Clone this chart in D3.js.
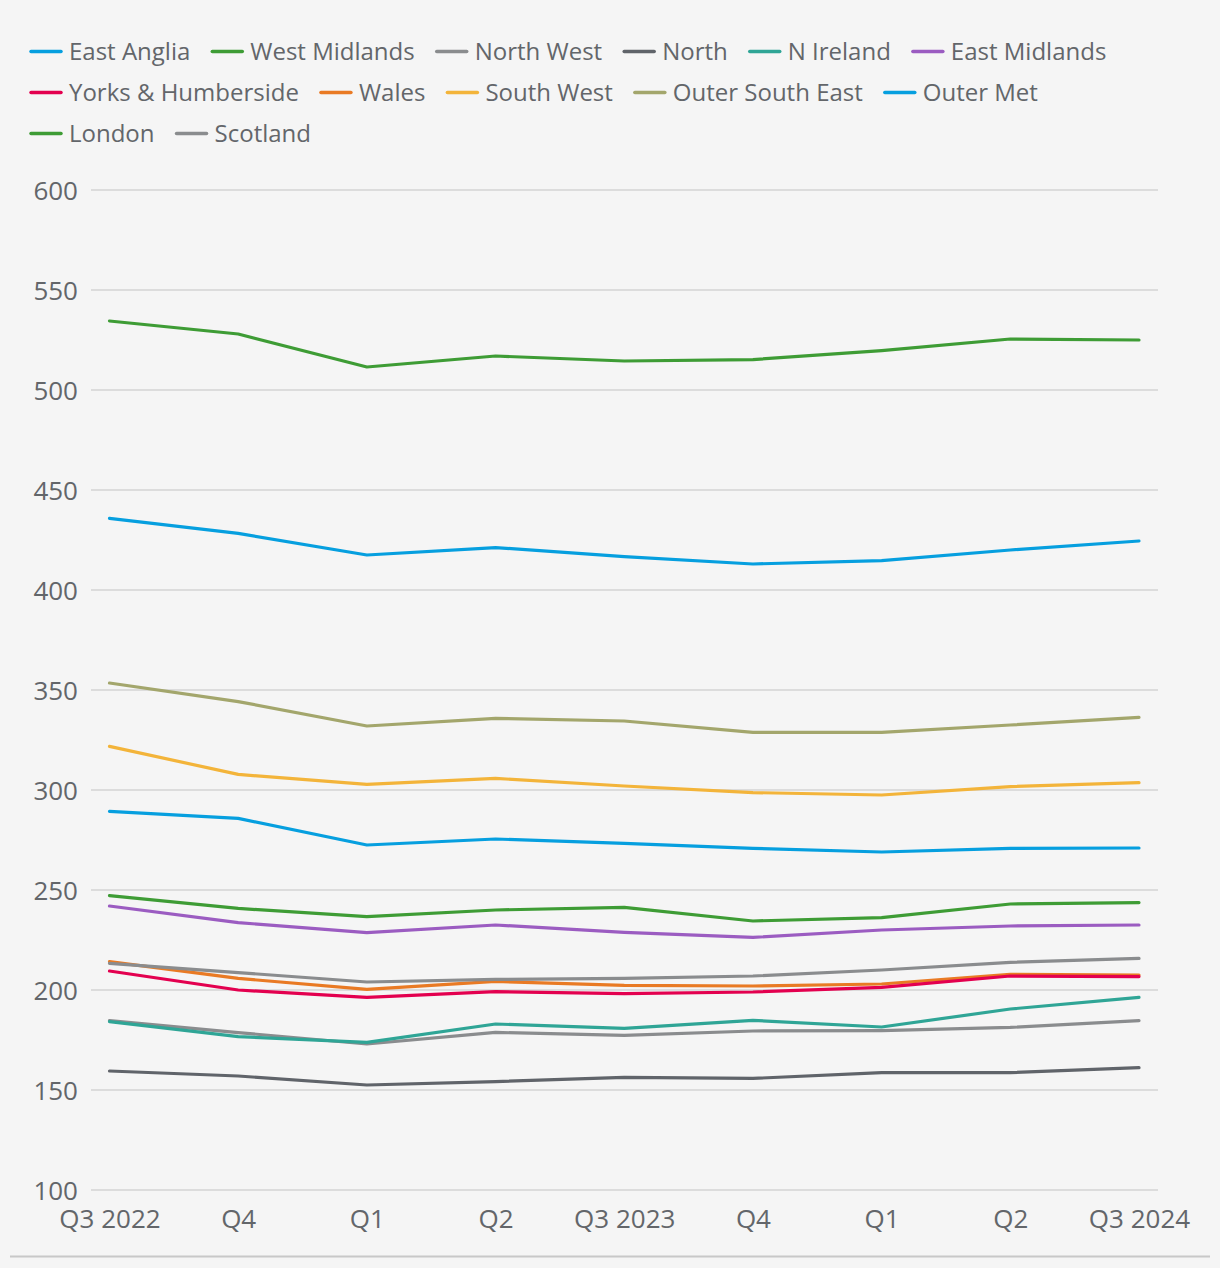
<!DOCTYPE html>
<html>
<head>
<meta charset="utf-8">
<script src="https://cdn.jsdelivr.net/npm/d3@7"></script>
<style>
  html, body { margin: 0; padding: 0; background: #f5f5f5; }
  svg { display: block; }
  text { font-family: "Open Sans", "Noto Sans", sans-serif; fill: #63666a; }
</style>
</head>
<body>
<svg id="chart" width="1220" height="1268"></svg>
<script>
// ---- Data ----
const quarters = ["Q3 2022", "Q4", "Q1", "Q2", "Q3 2023", "Q4", "Q1", "Q2", "Q3 2024"];
const yTicks = [100, 150, 200, 250, 300, 350, 400, 450, 500, 550, 600];

const seriesNames = ["East Anglia", "West Midlands", "North West", "North", "N Ireland", "East Midlands",
  "Yorks & Humberside", "Wales", "South West", "Outer South East", "Outer Met", "London", "Scotland"];
const seriesColors = ["#069fdf", "#3e9c35", "#8a8c8e", "#60646a", "#2fa596", "#9b5cc1",
  "#e3004f", "#e97a24", "#f3b43a", "#a3a66c", "#069fdf", "#3e9c35", "#8a8c8e"];

const eastAnglia     = [289.3, 285.8, 272.5, 275.5, 273.3, 270.8, 269.0, 270.8, 271.0];
const westMidlands   = [247.2, 240.8, 236.7, 240.0, 241.3, 234.5, 236.2, 243.0, 243.7];
const northWest      = [213.3, 208.7, 204.0, 205.3, 205.8, 207.0, 210.0, 213.8, 215.8];
const north          = [159.5, 157.0, 152.5, 154.2, 156.3, 155.8, 158.7, 158.7, 161.2];
const nIreland       = [184.2, 176.7, 173.8, 183.0, 180.8, 184.8, 181.5, 190.5, 196.3];
const eastMidlands   = [242.0, 233.7, 228.7, 232.5, 228.8, 226.3, 230.0, 232.0, 232.5];
const yorksHumber    = [209.5, 200.0, 196.3, 199.2, 198.2, 199.0, 201.3, 207.0, 206.7];
const wales          = [214.2, 205.8, 200.3, 204.3, 202.3, 202.0, 203.0, 207.8, 207.5];
const southWest      = [321.8, 307.8, 302.8, 305.8, 302.0, 298.7, 297.5, 301.7, 303.7];
const outerSouthEast = [353.5, 344.2, 332.0, 335.8, 334.5, 328.8, 328.8, 332.5, 336.3];
const outerMet       = [435.8, 428.3, 417.5, 421.2, 416.7, 413.0, 414.7, 420.0, 424.5];
const london         = [534.5, 528.0, 511.5, 517.0, 514.5, 515.2, 519.7, 525.5, 525.0];
const scotland       = [184.7, 178.7, 173.0, 178.8, 177.3, 179.5, 179.7, 181.3, 184.7];

const seriesValues = [eastAnglia, westMidlands, northWest, north, nIreland, eastMidlands,
  yorksHumber, wales, southWest, outerSouthEast, outerMet, london, scotland];

// ---- Chart ----
const svg = d3.select("#chart");
svg.append("rect").attr("width", 1220).attr("height", 1268).attr("fill", "#f5f5f5");

const x = d3.scalePoint().domain(d3.range(quarters.length)).range([109.5, 1139]);
const y = d3.scaleLinear().domain([100, 600]).range([1190, 190]);
const gridX0 = 91, gridX1 = 1158;

// Gridlines
svg.append("g").selectAll("line").data(yTicks).join("line")
  .attr("x1", gridX0).attr("x2", gridX1)
  .attr("y1", d => y(d)).attr("y2", d => y(d))
  .attr("stroke", "#dcdcdc").attr("stroke-width", 2);

// Y axis labels
const yAxis = d3.axisLeft(y).tickValues(yTicks).tickSize(0).tickPadding(0);
const gy = svg.append("g").attr("transform", "translate(78,0)").call(yAxis);
gy.select(".domain").remove();
gy.selectAll("text").attr("font-size", 26).attr("dy", "0.36em")
  .style("font-family", "'Open Sans', sans-serif").attr("fill", "#63666a");

// X axis labels
const xAxis = d3.axisBottom(x).tickFormat(i => quarters[i]).tickSize(0).tickPadding(0);
const gx = svg.append("g").attr("transform", "translate(0,1209.5)").call(xAxis);
gx.select(".domain").remove();
gx.selectAll("text").attr("font-size", 26).attr("dy", "0.71em")
  .style("font-family", "'Open Sans', sans-serif").attr("fill", "#63666a");

// Lines (later legend entries underneath)
const line = d3.line().x((d, i) => x(i)).y(d => y(d));
const order = d3.range(seriesNames.length).reverse();
svg.append("g").selectAll("path").data(order).join("path")
  .attr("d", k => line(seriesValues[k]))
  .attr("fill", "none")
  .attr("stroke", k => seriesColors[k])
  .attr("stroke-width", 3.2)
  .attr("stroke-linecap", "round")
  .attr("stroke-linejoin", "round");

// Legend (flowing)
const legend = svg.append("g");
let lx = 31, row = 0;
const rowBase = [59.5, 100.5, 141.5];
const maxRight = 1175;
seriesNames.forEach((name, k) => {
  const g = legend.append("g");
  const t = g.append("text").attr("font-size", 24).text(name);
  const w = t.node().getComputedTextLength();
  const itemW = 30 + 8 + w;
  if (lx + itemW > maxRight) { row += 1; lx = 31; }
  const by = rowBase[row] !== undefined ? rowBase[row] : 59.5 + row * 41;
  g.append("line").attr("x1", lx).attr("x2", lx + 30)
    .attr("y1", by - 8).attr("y2", by - 8)
    .attr("stroke", seriesColors[k]).attr("stroke-width", 3.5).attr("stroke-linecap", "round");
  t.attr("x", lx + 38).attr("y", by);
  lx += itemW + 22;
});

// Bottom rule
svg.append("line").attr("x1", 10).attr("x2", 1210).attr("y1", 1256.5).attr("y2", 1256.5)
  .attr("stroke", "#c8c8c8").attr("stroke-width", 2);
</script>
</body>
</html>
